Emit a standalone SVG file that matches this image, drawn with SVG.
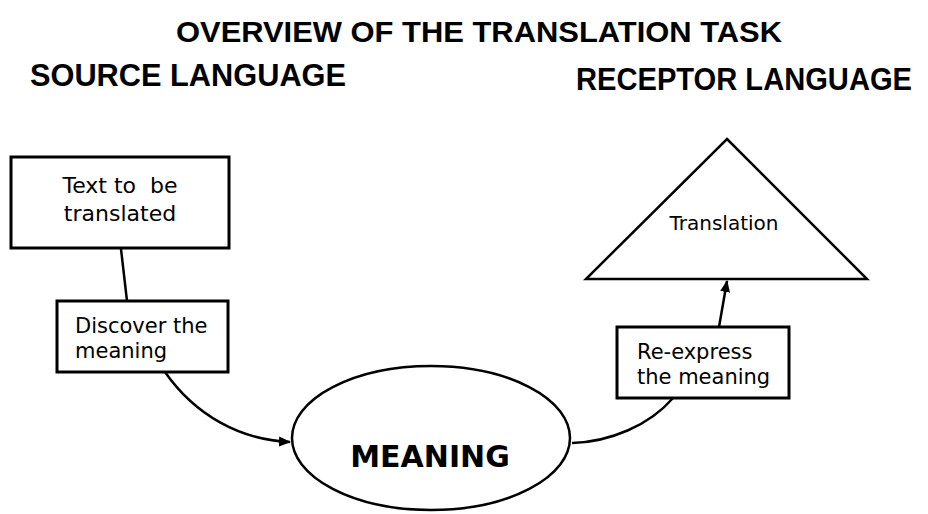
<svg xmlns="http://www.w3.org/2000/svg" width="928" height="514" viewBox="0 0 928 514">
<style>
.head{font-family:"Liberation Sans",Arial,sans-serif;font-weight:bold;font-size:32px;fill:#000}
.lbl{font-family:"DejaVu Sans","Verdana",sans-serif;font-size:21px;fill:#000;white-space:pre}
.box{fill:#fff;stroke:#000;stroke-width:3}
.conn{fill:none;stroke:#000;stroke-width:2.5}
</style>
<defs>
<marker id="arr" markerWidth="12" markerHeight="12" refX="11" refY="5" orient="auto" markerUnits="userSpaceOnUse" viewBox="0 0 12 10">
<path d="M0,0 L12,5 L0,10 Z" fill="#000"/>
</marker>
</defs>
<rect width="928" height="514" fill="#fff"/>
<g id="titles">
<text class="head" x="176" y="42" textLength="606" lengthAdjust="spacingAndGlyphs" style="font-size:30px">OVERVIEW OF THE TRANSLATION TASK</text>
<text class="head" x="30" y="86" textLength="316" lengthAdjust="spacingAndGlyphs">SOURCE LANGUAGE</text>
<text class="head" transform="translate(576,90) scale(1,1.14)" x="0" y="0" textLength="336" lengthAdjust="spacingAndGlyphs" style="font-size:28px">RECEPTOR LANGUAGE</text>
</g>
<g id="connectors">
<path class="conn" d="M121,249 L127,301"/>
<path class="conn" d="M165,372 C195,415 240,440 290,442" marker-end="url(#arr)"/>
<path class="conn" d="M572,443 C610,442 650,425 673,398"/>
<path class="conn" d="M719,327 L727,281" marker-end="url(#arr)"/>
</g>
<g id="source-text">
<rect class="box" x="11" y="157" width="218" height="91"/>
<text class="lbl" x="120" y="193" text-anchor="middle" style="font-size:22px">Text to  be</text>
<text class="lbl" x="120" y="221" text-anchor="middle" style="font-size:22px">translated</text>
</g>
<g id="discover">
<rect class="box" x="57" y="301" width="171" height="71"/>
<text class="lbl" x="75" y="333">Discover the</text>
<text class="lbl" x="75" y="358">meaning</text>
</g>
<g id="meaning">
<ellipse cx="431" cy="438" rx="139" ry="72" fill="#fff" stroke="#000" stroke-width="2.5"/>
<text x="430" y="467" text-anchor="middle" style="font-family:'DejaVu Sans',Verdana,sans-serif;font-weight:bold;font-size:30px">MEANING</text>
</g>
<g id="reexpress">
<rect class="box" x="617" y="327" width="172" height="71"/>
<text class="lbl" x="637" y="359">Re-express</text>
<text class="lbl" x="637" y="384">the meaning</text>
</g>
<g id="translation">
<polygon points="727,139 867,279 586,279" fill="#fff" stroke="#000" stroke-width="2.5" stroke-linejoin="miter"/>
<text class="lbl" x="724" y="230" text-anchor="middle" style="font-size:20px">Translation</text>
</g>
</svg>
